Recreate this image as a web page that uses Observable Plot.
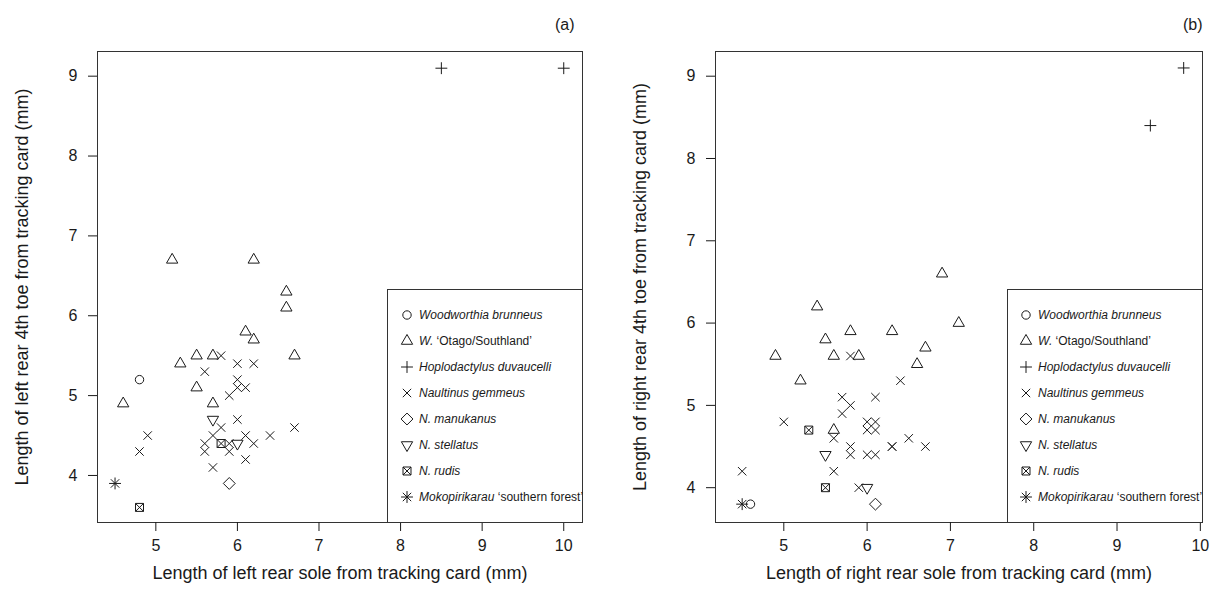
<!DOCTYPE html>
<html><head><meta charset="utf-8">
<script src="https://cdn.jsdelivr.net/npm/d3@7"></script>
<script src="https://cdn.jsdelivr.net/npm/@observablehq/plot@0.6"></script>
<style>
body{margin:0;background:#fff;font-family:"Liberation Sans",Arial,sans-serif;}
#row{display:flex;width:1215px;height:612px;overflow:hidden;}
.panel{position:relative;height:612px;flex:none;}
.legend{position:absolute;overflow:visible;}
</style></head><body><div id="row"></div>
<script>
// ---- categories ----
const speciesCodes = ["Wb","WOS","Hd","Ng","Nm","Ns","Nr","Msf"];
const speciesItalic = ["Woodworthia brunneus","W.","Hoplodactylus duvaucelli","Naultinus gemmeus","N. manukanus","N. stellatus","N. rudis","Mokopirikarau"];
const speciesPlain  = [""," \u2018Otago/Southland\u2019","","","","",""," \u2018southern forest\u2019"];

// ---- panel (a): left foot ----
const leftCounts = [1,13,2,23,1,2,2,1];
const leftSole = [4.8,
  5.2,6.2,6.6,6.6,6.1,6.2,6.7,5.5,5.7,5.3,5.5,4.6,5.7,
  8.5,10,
  5.8,6.0,6.2,5.6,6.0,6.0,6.1,5.9,6.0,6.7,5.8,4.9,5.7,6.1,6.4,5.6,6.2,5.9,4.8,5.6,5.9,6.1,5.7,
  5.9,
  5.7,6.0,
  4.8,5.8,
  4.5];
const leftToe = [5.2,
  6.7,6.7,6.3,6.1,5.8,5.7,5.5,5.5,5.5,5.4,5.1,4.9,4.9,
  9.1,9.1,
  5.5,5.4,5.4,5.3,5.2,5.1,5.1,5.0,4.7,4.6,4.6,4.5,4.5,4.5,4.5,4.4,4.4,4.4,4.3,4.3,4.3,4.2,4.1,
  3.9,
  4.7,4.4,
  3.6,4.4,
  3.9];

// ---- panel (b): right foot ----
const rightCounts = [1,13,2,23,1,2,2,1];
const rightSole = [4.6,
  6.9,5.4,7.1,5.8,6.3,5.5,6.7,4.9,5.6,5.9,6.6,5.2,5.6,
  9.4,9.8,
  5.8,6.4,5.7,6.1,5.8,5.7,5.0,6.0,6.1,6.0,6.1,5.6,6.5,6.3,6.3,6.7,5.8,5.8,6.0,6.1,5.6,5.9,4.5,
  6.1,
  5.5,6.0,
  5.3,5.5,
  4.5];
const rightToe = [3.8,
  6.6,6.2,6.0,5.9,5.9,5.8,5.7,5.6,5.6,5.6,5.5,5.3,4.7,
  8.4,9.1,
  5.6,5.3,5.1,5.1,5.0,4.9,4.8,4.8,4.8,4.7,4.7,4.6,4.6,4.5,4.5,4.5,4.5,4.4,4.4,4.4,4.2,4.0,4.2,
  3.8,
  4.4,4.0,
  4.7,4.0,
  3.8];

// ---- tick labels / titles ----
const xTicks = [5,6,7,8,9,10];
const yTicks = [4,5,6,7,8,9];
const leftXTitle = "Length of left rear sole from tracking card (mm)";
const leftYTitle = "Length of left rear 4th toe from tracking card (mm)";
const rightXTitle = "Length of right rear sole from tracking card (mm)";
const rightYTitle = "Length of right rear 4th toe from tracking card (mm)";

// ---- R-like plotting symbols ----
const R0 = 4.2;
function sym(fn){ return {draw(c, size){ fn(c, Math.sqrt(size/Math.PI)); }}; }
const symbols = {
  Wb: sym((c,r)=>{ c.moveTo(r,0); c.arc(0,0,r,0,2*Math.PI); }),
  WOS: sym((c,r)=>{ const t=1.555*r, xc=0.866*t, yc=0.5*t; c.moveTo(0,-t); c.lineTo(xc,yc); c.lineTo(-xc,yc); c.closePath(); }),
  Hd: sym((c,r)=>{ const a=1.414*r; c.moveTo(-a,0); c.lineTo(a,0); c.moveTo(0,-a); c.lineTo(0,a); }),
  Ng: sym((c,r)=>{ c.moveTo(-r,-r); c.lineTo(r,r); c.moveTo(-r,r); c.lineTo(r,-r); }),
  Nm: sym((c,r)=>{ const a=1.414*r; c.moveTo(0,-a); c.lineTo(a,0); c.lineTo(0,a); c.lineTo(-a,0); c.closePath(); }),
  Ns: sym((c,r)=>{ const t=1.555*r, xc=0.866*t, yc=0.5*t; c.moveTo(0,t); c.lineTo(xc,-yc); c.lineTo(-xc,-yc); c.closePath(); }),
  Nr: sym((c,r)=>{ const a=0.95*r; c.rect(-a,-a,2*a,2*a); c.moveTo(-a,-a); c.lineTo(a,a); c.moveTo(-a,a); c.lineTo(a,-a); }),
  Msf: sym((c,r)=>{ const a=1.414*r; c.moveTo(-r,-r); c.lineTo(r,r); c.moveTo(-r,r); c.lineTo(r,-r); c.moveTo(-a,0); c.lineTo(a,0); c.moveTo(0,-a); c.lineTo(0,a); })
};

function buildTable(counts, sole, toe){
  const sp = [];
  counts.forEach((n,i)=>{ for(let k=0;k<n;k++) sp.push(speciesCodes[i]); });
  return sole.map((s,i)=>({sp: sp[i], sole: s, toe: toe[i]}));
}

const INK = "#1a1a1a";

function makePanel(cfg){
  const table = buildTable(cfg.counts, cfg.sole, cfg.toe);
  const plot = Plot.plot({
    width: cfg.width, height: 612,
    marginLeft: cfg.ml, marginRight: cfg.mr, marginTop: 51, marginBottom: 90,
    x: {domain: cfg.xd}, y: {domain: cfg.yd},
    style: {fontFamily: '"Liberation Sans", Arial, sans-serif', color: INK, background: "#fff", overflow: "visible"},
    marks: [
      Plot.frame({stroke: "#333", strokeWidth: 1}),
      Plot.axisX({ticks: xTicks, tickSize: 9, tickPadding: 8, fontSize: 16, label: null, tickFormat: d => String(d)}),
      Plot.axisY({ticks: yTicks, tickSize: 9, tickPadding: 11, fontSize: 16, label: null, tickFormat: d => String(d)}),
      ...speciesCodes.map(code => Plot.dot(table.filter(d => d.sp === code), {
        x: "sole", y: "toe", symbol: symbols[code], r: R0, stroke: INK, strokeWidth: 1, fill: "none"
      })),
      Plot.text([cfg.xTitle], {text: d => d, frameAnchor: "bottom", dy: 56, fontSize: 18, fill: INK}),
      Plot.text([cfg.yTitle], {text: d => d, frameAnchor: "left", textAnchor: "middle", dx: -75, rotate: -90, fontSize: 18, fill: INK}),
      Plot.text([cfg.letter], {text: d => d, frameAnchor: "top-right", textAnchor: "end", dx: cfg.letterDx, dy: -33, fontSize: 16, fill: INK})
    ]
  });
  const wrap = document.createElement("div");
  wrap.className = "panel";
  wrap.style.width = cfg.width + "px";
  wrap.appendChild(plot);

  // legend (bottom-right, inside plot box)
  const lw = 195, lh = 233;
  const svg = d3.create("svg").attr("class","legend").attr("width", lw+1).attr("height", lh+1)
    .style("left", cfg.legLeft + "px").style("top", "289px");
  svg.append("rect").attr("x",0.5).attr("y",0.5).attr("width",lw).attr("height",lh)
    .attr("fill","#fff").attr("stroke","#333");
  speciesCodes.forEach((code,i)=>{
    const yy = 26 + 26*i;
    svg.append("path").attr("d", d3.symbol(symbols[code], Math.PI*R0*R0)())
      .attr("transform", `translate(${cfg.symX},${yy})`)
      .attr("fill","none").attr("stroke",INK).attr("stroke-width",1);
    const t = svg.append("text").attr("x", cfg.symX+12).attr("y", yy).attr("dy","0.35em")
      .attr("font-size", 12).attr("fill", INK).attr("font-family",'"Liberation Sans", Arial, sans-serif');
    t.append("tspan").attr("font-style","italic").text(speciesItalic[i]);
    if (speciesPlain[i]) t.append("tspan").text(speciesPlain[i]);
  });
  wrap.appendChild(svg.node());
  document.getElementById("row").appendChild(wrap);
}

makePanel({counts: leftCounts, sole: leftSole, toe: leftToe, width: 607, ml: 97, mr: 25,
  xd: [4.285, 10.23], yd: [3.411, 9.309], xTitle: leftXTitle, yTitle: leftYTitle, letter: "(a)", letterDx: -8,
  legLeft: 387, symX: 20});
makePanel({counts: rightCounts, sole: rightSole, toe: rightToe, width: 608, ml: 108, mr: 13,
  xd: [4.18, 10.026], yd: [3.577, 9.30], xTitle: rightXTitle, yTitle: rightYTitle, letter: "(b)", letterDx: 0,
  legLeft: 400, symX: 19});
</script></body></html>
